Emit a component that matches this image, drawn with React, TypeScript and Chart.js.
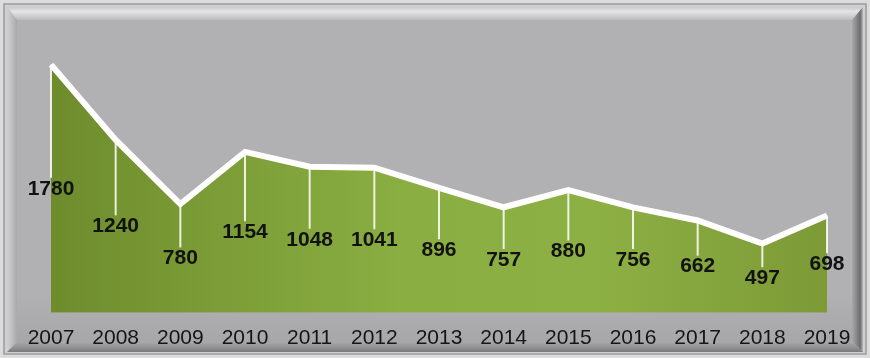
import React, { useEffect, useRef } from "react";
import { Chart, registerables } from "chart.js";

Chart.register(...registerables);

const years = ["2007", "2008", "2009", "2010", "2011", "2012", "2013", "2014", "2015", "2016", "2017", "2018", "2019"];
const values = [1780, 1240, 780, 1154, 1048, 1041, 896, 757, 880, 756, 662, 497, 698];
const yMin = 0;
const yMax = 2000;

const W = 870;
const H = 358;

const framePlugin = {
  id: "frame",
  beforeDraw(chart: any) {
    const ctx = chart.ctx as CanvasRenderingContext2D;
    ctx.save();
    ctx.fillStyle = "#c3c3c5";
    ctx.fillRect(0, 0, W, H);
    ctx.strokeStyle = "#dcdcdc";
    ctx.lineWidth = 3;
    ctx.strokeRect(1.5, 1.5, W - 3, H - 3);
    ctx.strokeStyle = "#a3a3a5";
    ctx.lineWidth = 1.5;
    ctx.strokeRect(4, 4, W - 8, H - 8);
    ctx.strokeStyle = "#d4d4d6";
    ctx.lineWidth = 1.5;
    ctx.strokeRect(6, 6, W - 12, H - 12);

    const oL = 7, oT = 7, oR = 863, oB = 352;
    const iL = 17, iT = 20, iR = 852, iB = 342;

    let g = ctx.createLinearGradient(0, oT, 0, iT);
    g.addColorStop(0, "#c9c9cb");
    g.addColorStop(0.35, "#e4e4e6");
    g.addColorStop(1, "#bcbcbe");
    ctx.fillStyle = g;
    ctx.beginPath();
    ctx.moveTo(oL, oT); ctx.lineTo(oR, oT); ctx.lineTo(iR, iT); ctx.lineTo(iL, iT); ctx.closePath();
    ctx.fill();

    g = ctx.createLinearGradient(oL, 0, iL, 0);
    g.addColorStop(0, "#d0d0d2");
    g.addColorStop(0.4, "#c2c2c4");
    g.addColorStop(1, "#a9a9ab");
    ctx.fillStyle = g;
    ctx.beginPath();
    ctx.moveTo(oL, oT); ctx.lineTo(iL, iT); ctx.lineTo(iL, iB); ctx.lineTo(oL, oB); ctx.closePath();
    ctx.fill();

    g = ctx.createLinearGradient(iR, 0, oR, 0);
    g.addColorStop(0, "#a8a8aa");
    g.addColorStop(0.6, "#7a7a7c");
    g.addColorStop(0.75, "#6c6c6e");
    g.addColorStop(1, "#b9b9bb");
    ctx.fillStyle = g;
    ctx.beginPath();
    ctx.moveTo(oR, oT); ctx.lineTo(iR, iT); ctx.lineTo(iR, iB); ctx.lineTo(oR, oB); ctx.closePath();
    ctx.fill();

    g = ctx.createLinearGradient(0, iB, 0, oB);
    g.addColorStop(0, "#a9a9ab");
    g.addColorStop(0.7, "#8a8a8c");
    g.addColorStop(1, "#7a7a7c");
    ctx.fillStyle = g;
    ctx.beginPath();
    ctx.moveTo(iL, iB); ctx.lineTo(iR, iB); ctx.lineTo(oR, oB); ctx.lineTo(oL, oB); ctx.closePath();
    ctx.fill();

    g = ctx.createLinearGradient(0, iT, 0, iB);
    g.addColorStop(0, "#b1b1b3");
    g.addColorStop(0.85, "#b1b1b3");
    g.addColorStop(1, "#a7a7a9");
    ctx.fillStyle = g;
    ctx.fillRect(iL, iT, iR - iL, iB - iT);
    ctx.restore();
  },
};

const labelPlugin = {
  id: "dropLabels",
  afterDatasetsDraw(chart: any) {
    const ctx = chart.ctx as CanvasRenderingContext2D;
    const meta = chart.getDatasetMeta(0);
    const yScale = chart.scales.y;
    ctx.save();
    meta.data.forEach((pt: any, i: number) => {
      const v = values[i];
      const ly = yScale.getPixelForValue(v / 2);
      ctx.strokeStyle = "rgba(255,255,255,0.85)";
      ctx.lineWidth = 2;
      ctx.beginPath();
      ctx.moveTo(pt.x, pt.y);
      ctx.lineTo(pt.x, ly - 11);
      ctx.stroke();
    });
    ctx.fillStyle = "#121212";
    ctx.font = "bold 21px 'Liberation Sans', Arial, sans-serif";
    ctx.textAlign = "center";
    ctx.textBaseline = "middle";
    meta.data.forEach((pt: any, i: number) => {
      const v = values[i];
      const ly = yScale.getPixelForValue(v / 2);
      ctx.fillText(String(v), pt.x, ly);
    });
    ctx.restore();
  },
};

export default function App() {
  const ref = useRef<HTMLCanvasElement | null>(null);
  useEffect(() => {
    if (!ref.current) return;
    const chart = new Chart(ref.current, {
      type: "line",
      data: {
        labels: years,
        datasets: [
          {
            data: values,
            borderColor: "#ffffff",
            borderWidth: 6,
            borderJoinStyle: "miter",
            pointRadius: 0,
            tension: 0,
            fill: "origin",
            clip: 10,
            backgroundColor: (c: any) => {
              const { chart } = c;
              const area = chart.chartArea;
              if (!area) return "#80a03a";
              const g = chart.ctx.createLinearGradient(area.left, 0, area.right, 0);
              g.addColorStop(0, "#6e8c2c");
              g.addColorStop(0.45, "#8aae42");
              g.addColorStop(0.7, "#8db044");
              g.addColorStop(1, "#7c9a36");
              return g;
            },
          },
        ],
      },
      options: {
        responsive: false,
        animation: false,
        layout: { padding: { left: 51, right: 43, top: 34, bottom: -6 } },
        plugins: { legend: { display: false }, tooltip: { enabled: false } },
        scales: {
          x: {
            offset: false,
            grid: { display: false, drawTicks: false },
            border: { display: false },
            ticks: {
              color: "#151515",
              padding: 13,
              maxRotation: 0,
              autoSkip: false,
              font: { family: "'Liberation Sans', Arial, sans-serif", size: 21 },
            },
          },
          y: { display: false, min: yMin, max: yMax },
        },
      },
      plugins: [framePlugin, labelPlugin],
    });
    return () => chart.destroy();
  }, []);
  return (
    <div style={{ position: "fixed", left: 0, top: 0, width: W, height: H }}>
      <canvas ref={ref} width={W} height={H} style={{ display: "block" }} />
    </div>
  );
}
